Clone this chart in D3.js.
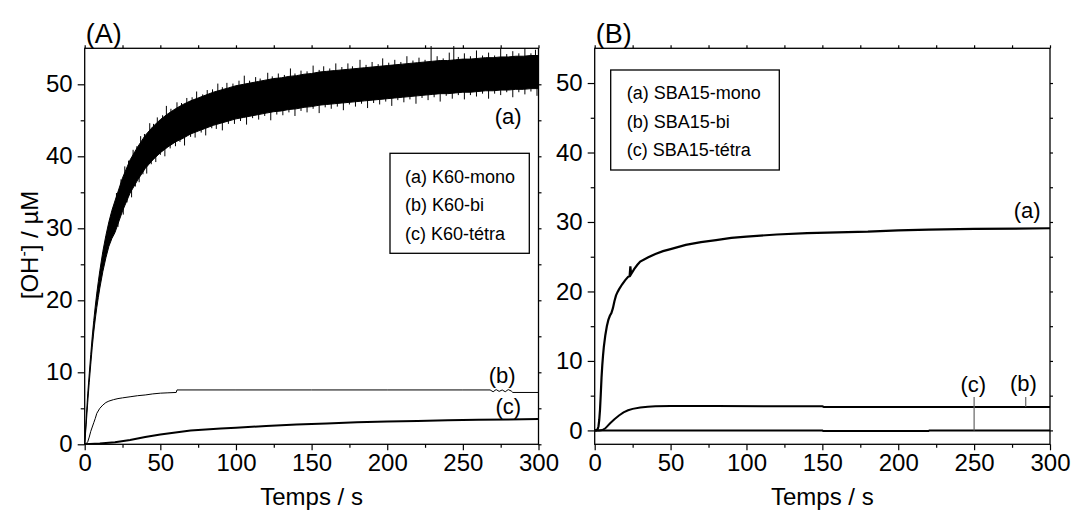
<!DOCTYPE html>
<html><head><meta charset="utf-8">
<script src="https://cdn.jsdelivr.net/npm/d3@7"></script>
<style>
body{margin:0;background:#fff}
text{font-family:"Liberation Sans",Arial,Helvetica,sans-serif;fill:#000}
</style>
</head><body>
<svg id="c" width="1073" height="513"></svg>
<script>
// ---------------- DATA ----------------
const xTicksMajor = [0, 50, 100, 150, 200, 250, 300];
const xTicksMinor = [25, 75, 125, 175, 225, 275];
const yTicksMajor = [0, 10, 20, 30, 40, 50];
const yTicksMinor = [5, 15, 25, 35, 45];
const xDomain = [0, 300];
const yDomainA = [0, 55];
const yDomainB = [-2, 55];
const xTitle = "Temps / s";

// Panel A (a) K60-mono : noisy band (upper / lower envelope)
const timeAa = [0,1,2,3,4,5,6,7,8,9,10,12,14,16,18,20,25,30,35,40,45,50,55,60,65,70,75,80,85,90,95,100,105,110,115,120,125,130,135,140,145,150,155,160,165,170,175,180,185,190,195,200,205,210,215,220,225,230,235,240,245,250,255,260,265,270,275,280,285,290,295,300];
const upperAa = [0,3.6,7.0,9.8,12.5,15.0,17.2,19.2,21.0,22.6,24.1,26.8,29.0,30.9,32.5,33.8,37.0,39.5,41.3,42.9,44.1,45.1,45.9,46.6,47.2,47.7,48.1,48.5,48.9,49.2,49.5,49.8,50.0,50.2,50.4,50.6,50.8,50.9,51.1,51.2,51.4,51.5,51.7,51.8,51.9,52.0,52.1,52.2,52.3,52.4,52.5,52.6,52.7,52.8,52.9,53.0,53.1,53.2,53.3,53.3,53.4,53.5,53.5,53.6,53.7,53.7,53.8,53.8,53.9,53.9,54.0,54.0];
const lowerAa = [0,2.8,5.8,8.6,11.1,13.5,15.6,17.4,19.0,20.4,21.7,24.0,25.9,27.5,28.6,29.4,32.4,34.9,36.7,38.3,39.5,40.5,41.3,42.0,42.5,43.1,43.5,43.9,44.3,44.6,44.9,45.2,45.4,45.6,45.8,46.0,46.2,46.3,46.5,46.6,46.8,46.9,47.1,47.2,47.3,47.4,47.5,47.6,47.7,47.8,47.9,48.0,48.1,48.2,48.3,48.4,48.5,48.6,48.7,48.7,48.8,48.9,48.9,49.0,49.1,49.1,49.2,49.2,49.3,49.3,49.4,49.4];
// noise spikes of curve A(a): upward (time, tip) and downward (time, tip)
const upSpikeTime = [21,24,26.5,29,32,34.5,37,39.5,43,45.5,48,51.5,54,57,61,64,67.5,71,74,78,81,84.5,88,91,94,98,102,105.5,109,113,116,121,124,128,132,136,139,143,147,151,155,158,162,166,170,174,177,182,186,190,194,197,201,205,209,213,217,221,225,229,233,237,241,244,247,251,255,259,263,267,271,275,279,283,287,291,295,298];
const upSpikeTip  = [34.9,36.8,38.6,39.4,40.9,41.4,42.8,43.1,44.6,44.5,45.4,45.7,47.0,46.6,47.5,47.4,48.1,48.2,49.0,48.6,49.2,49.3,50.1,49.6,50.2,50.1,50.5,51.2,50.5,51.0,50.8,51.6,51.1,51.5,51.3,52.2,51.5,51.9,51.8,52.6,52.0,52.5,52.2,52.9,52.4,52.9,52.5,53.4,52.7,53.1,52.8,53.6,53.0,53.4,53.1,53.9,53.3,53.7,53.4,55.6,53.9,53.6,54.4,55.4,53.8,54.3,53.9,54.7,54.0,54.4,54.0,54.9,54.2,54.6,54.3,55.0,54.3,54.8];
const downSpikeTime = [22,25.5,28,31,33.5,36,38.5,41,44,47,50,53,56.5,60,63,66,70,73,77,80,84,87,91,95,99,103,107,111,115,119,123,127,131,135,139,143,147,151,155,159,163,167,171,175,179,183,187,191,195,199,203,207,211,215,219,223,227,231,235,239,243,247,251,255,259,263,267,271,275,279,283,287,291,295,299];
const downSpikeTip  = [30.2,31.9,33.6,34.3,35.8,36.4,37.5,37.6,38.9,39.2,40.2,40.0,41.1,41.4,42.0,41.5,42.7,42.6,43.3,42.9,43.9,43.8,43.6,44.5,44.5,44.9,44.4,45.3,45.1,45.6,45.0,45.8,45.7,46.1,45.6,46.3,46.1,46.6,46.0,46.8,46.6,46.9,46.4,47.2,46.9,47.3,46.7,47.4,47.2,47.6,47.0,47.8,47.5,47.9,47.3,48.1,47.8,48.2,47.6,48.4,48.0,48.5,47.9,48.5,48.3,48.7,48.0,48.7,48.5,48.9,48.2,48.9,48.6,49.0,48.4];

// Panel A (b) K60-bi
const timeAb = [0,1,2,3,4,5,6,7,8,10,12,14,16,19,22,25,30,35,40,45,50,55,60.5,61,100,150,200,250,268,270,272,274,276,278,280,282,283,300];
const valAb  = [0,0.1,0.35,1.0,1.8,2.4,3.0,3.6,4.3,5.0,5.45,5.8,6.0,6.2,6.35,6.45,6.6,6.75,6.85,7.0,7.1,7.15,7.2,7.55,7.55,7.55,7.55,7.55,7.55,7.3,7.6,7.35,7.55,7.3,7.6,7.4,7.2,7.2];

// Panel A (c) K60-tétra
const timeAc = [0,10,20,30,40,50,60,70,80,90,100,120,140,160,180,200,220,240,260,280,300];
const valAc  = [0,0.1,0.3,0.6,1.0,1.35,1.65,1.9,2.05,2.2,2.3,2.55,2.75,2.9,3.05,3.15,3.25,3.35,3.4,3.45,3.5];

// Panel B (a) SBA15-mono
const timeBa = [0,1,2,2.5,3,3.5,4,4.5,5,5.5,6,7,8,9,10,11,12,13,14,15,16,18,20,22,23,23.5,24,26,28,30,35,40,45,50,60,70,80,90,100,120,140,160,180,200,220,250,300];
const valBa  = [0,0,0.2,0.6,1.5,3.0,5.2,7.6,9.4,10.8,12.0,13.7,15.0,15.9,16.5,16.9,17.6,18.6,19.4,19.9,20.3,21.0,21.6,22.1,22.2,23.6,22.5,23.2,23.8,24.3,24.9,25.4,25.8,26.1,26.7,27.1,27.4,27.7,27.9,28.2,28.4,28.5,28.6,28.8,28.9,29.0,29.1];

// Panel B (b) SBA15-bi
const timeBb = [0,3,5,7,10,13,16,19,22,25,30,35,40,50,80,150,151,270,300];
const valBb  = [0,0,0.05,0.3,1.0,1.6,2.15,2.6,2.9,3.1,3.3,3.42,3.48,3.5,3.5,3.48,3.38,3.38,3.38];

// Panel B (c) SBA15-tétra
const timeBc = [0,150,150.5,220,220.5,300];
const valBc  = [0,0,-0.08,-0.08,0,0];

// Legends and curve labels
const legendA = ["(a) K60-mono", "(b) K60-bi", "(c) K60-tétra"];
const legendB = ["(a) SBA15-mono", "(b) SBA15-bi", "(c) SBA15-tétra"];
const curveLabels = ["(a)", "(b)", "(c)"];
const labelTimeA = [280, 276, 280];
const labelValA  = [45.5, 9.6, 5.3];
const labelTimeB = [285, 282.5, 249.5];
const labelValB  = [31.7, 6.7, 6.6];
// leader lines in panel B: time, from value, to value
const leaderTimeB = [284, 250];
const leaderFromB = [3.4, 0];
const leaderToB   = [4.8, 4.8];

// ---------------- DRAW ----------------
const svg = d3.select("#c");
const FONT = '"Liberation Sans",Arial,Helvetica,sans-serif';

function makePanel(p) {
  const x = d3.scaleLinear().domain(xDomain).range([p.left, p.right]);
  const y = d3.scaleLinear().domain(p.yDomain).range([p.bottom, p.top]);

  function styleAxis(g, fs) {
    g.attr("font-family", FONT).attr("font-size", fs || 24);
    g.select(".domain").remove();
    g.selectAll("line").attr("stroke", "#000").attr("stroke-width", 1.2);
  }
  svg.append("g").attr("transform", `translate(${p.left},0)`)
    .call(d3.axisLeft(y).tickValues(yTicksMajor).tickSize(7).tickPadding(5).tickFormat(d3.format("d")))
    .call(g => styleAxis(g));
  svg.append("g").attr("transform", `translate(${p.left},0)`)
    .call(d3.axisLeft(y).tickValues(yTicksMinor).tickSize(4).tickFormat(""))
    .call(g => styleAxis(g));
  svg.append("g").attr("transform", `translate(${p.right},0)`)
    .call(d3.axisRight(y).tickValues(yTicksMajor.concat(yTicksMinor)).tickSize(3).tickFormat(""))
    .call(g => styleAxis(g));
  svg.append("g").attr("transform", `translate(0,${p.bottom})`)
    .call(d3.axisBottom(x).tickValues(xTicksMajor).tickSize(6).tickPadding(4).tickFormat(d3.format("d")))
    .call(g => styleAxis(g));
  svg.append("g").attr("transform", `translate(0,${p.bottom})`)
    .call(d3.axisBottom(x).tickValues(xTicksMinor).tickSize(3.5).tickFormat(""))
    .call(g => styleAxis(g));
  svg.append("g").attr("transform", `translate(0,${p.top})`)
    .call(d3.axisTop(x).tickValues(xTicksMajor.concat(xTicksMinor)).tickSize(3).tickFormat(""))
    .call(g => styleAxis(g));
  svg.append("rect").attr("x", p.left).attr("y", p.top)
    .attr("width", p.right - p.left).attr("height", p.bottom - p.top)
    .attr("fill", "none").attr("stroke", "#000").attr("stroke-width", 1.3);
  svg.append("text").attr("x", p.left + 1).attr("y", p.top - 5)
    .attr("font-size", 27).text(p.letter);
  svg.append("text").attr("x", (p.left + p.right) / 2).attr("y", 505)
    .attr("text-anchor", "middle").attr("font-size", 24).text(xTitle);
  return {x, y};
}

function line(x, y, ts, vs) {
  return d3.line().x(d => x(d[0])).y(d => y(d[1]))(ts.map((t, i) => [t, vs[i]]));
}

function legend(items, bx, by, bw, bh, ty0, dy, tx) {
  svg.append("rect").attr("x", bx).attr("y", by).attr("width", bw).attr("height", bh)
    .attr("fill", "#fff").attr("stroke", "#000").attr("stroke-width", 1.3);
  items.forEach((s, i) => {
    svg.append("text").attr("x", tx).attr("y", ty0 + i * dy).attr("font-size", 18).text(s);
  });
}

// ---- Panel A
const A = makePanel({left: 84.7, right: 538.5, top: 48.3, bottom: 444.3, yDomain: yDomainA, letter: "(A)"});
svg.append("clipPath").attr("id", "clipA").append("rect")
  .attr("x", 84.7).attr("y", 46).attr("width", 538.5 - 84.7).attr("height", 444.3 - 46);
const gA = svg.append("g").attr("clip-path", "url(#clipA)");
gA.append("path")
  .attr("d", d3.area().x(d => A.x(d[0])).y0(d => A.y(d[2])).y1(d => A.y(d[1]))
    (timeAa.map((t, i) => [t, upperAa[i], lowerAa[i]])))
  .attr("fill", "#000").attr("stroke", "#000").attr("stroke-width", 1);
// spikes: drawn from tip back into the band (2.5 units inward)
upSpikeTime.forEach((t, i) => {
  gA.append("line").attr("x1", A.x(t)).attr("x2", A.x(t))
    .attr("y1", A.y(upSpikeTip[i] - 2.5)).attr("y2", A.y(upSpikeTip[i]))
    .attr("stroke", "#000").attr("stroke-width", 1);
});
downSpikeTime.forEach((t, i) => {
  gA.append("line").attr("x1", A.x(t)).attr("x2", A.x(t))
    .attr("y1", A.y(downSpikeTip[i] + 2.5)).attr("y2", A.y(downSpikeTip[i]))
    .attr("stroke", "#000").attr("stroke-width", 1);
});
gA.append("path").attr("d", line(A.x, A.y, timeAb, valAb))
  .attr("fill", "none").attr("stroke", "#000").attr("stroke-width", 1);
gA.append("path").attr("d", line(A.x, A.y, timeAc, valAc))
  .attr("fill", "none").attr("stroke", "#000").attr("stroke-width", 2);
curveLabels.forEach((s, i) => {
  svg.append("text").attr("x", A.x(labelTimeA[i])).attr("y", A.y(labelValA[i]))
    .attr("text-anchor", "middle").attr("dominant-baseline", "central")
    .attr("font-size", 22).text(s);
});
legend(legendA, 390, 153.3, 139.3, 100, 183, 28.3, 405);

// y title
const yt = svg.append("text")
  .attr("transform", "translate(38,245) rotate(-90)")
  .attr("text-anchor", "middle").attr("font-size", 24);
yt.append("tspan").text("[OH");
yt.append("tspan").attr("font-size", 16).attr("dy", -9).text("-");
yt.append("tspan").attr("dy", 9).text("] / µM");

// ---- Panel B
const B = makePanel({left: 594.7, right: 1050, top: 48.3, bottom: 444.3, yDomain: yDomainB, letter: "(B)"});
const gB = svg.append("g");
gB.append("path").attr("d", line(B.x, B.y, timeBa, valBa))
  .attr("fill", "none").attr("stroke", "#000").attr("stroke-width", 2.2);
gB.append("path").attr("d", line(B.x, B.y, timeBb, valBb))
  .attr("fill", "none").attr("stroke", "#000").attr("stroke-width", 2);
gB.append("path").attr("d", line(B.x, B.y, timeBc, valBc))
  .attr("fill", "none").attr("stroke", "#000").attr("stroke-width", 2);
leaderTimeB.forEach((t, i) => {
  gB.append("line").attr("x1", B.x(t)).attr("x2", B.x(t))
    .attr("y1", B.y(leaderFromB[i])).attr("y2", B.y(leaderToB[i]))
    .attr("stroke", "#666").attr("stroke-width", 1.2);
});
curveLabels.forEach((s, i) => {
  svg.append("text").attr("x", B.x(labelTimeB[i])).attr("y", B.y(labelValB[i]))
    .attr("text-anchor", "middle").attr("dominant-baseline", "central")
    .attr("font-size", 22).text(s);
});
legend(legendB, 610.7, 70, 168.6, 100, 99, 28.7, 626.7);
</script>
</body></html>
